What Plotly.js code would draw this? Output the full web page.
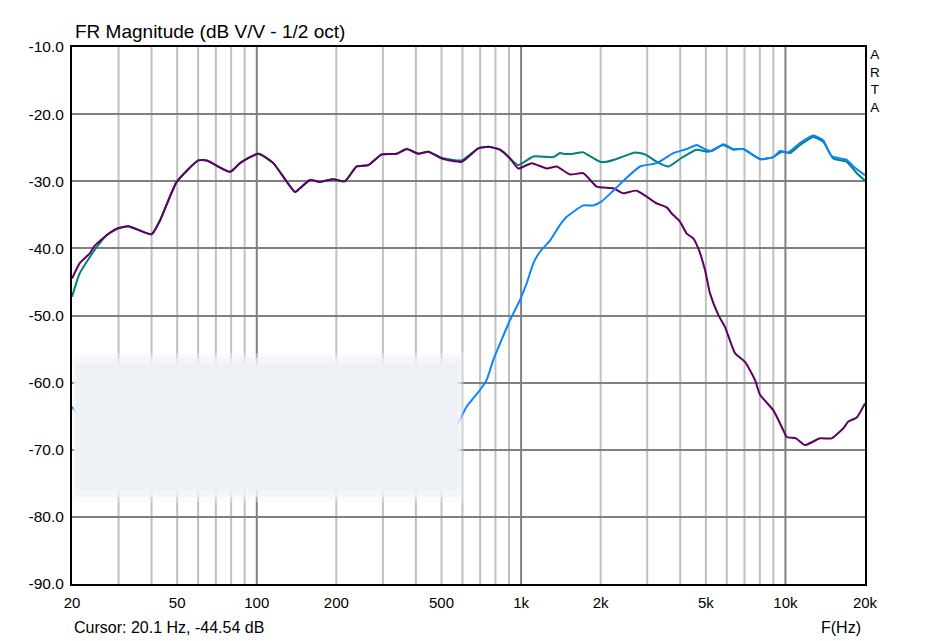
<!DOCTYPE html>
<html>
<head>
<meta charset="utf-8">
<script src="https://cdn.plot.ly/plotly-3.0.1.min.js"></script>
<style>html,body{margin:0;padding:0;background:#fff;}#chart{width:937px;height:641px;}</style>
</head>
<body>
<div id="chart"></div>
<script>
// ---- data (frequency in Hz, magnitude in dB) ----
const tealFreq = [20, 21.4, 24.4, 27.1, 29.9, 32.7, 40.0, 43.1, 49.8, 60.1, 64.7, 79.2, 86.4, 101.4, 115.5, 139.6, 146, 159, 173.5, 194.7, 215.6, 238.8, 264.2, 297, 338.3, 369.3, 408.3, 445.7, 500.7, 596.4, 688.8, 751.6, 832.3, 908, 975.8, 1113, 1324, 1404, 1445, 1576, 1671, 1720, 1989, 2108, 2368, 2697, 2944, 3259, 3607, 4052, 4616, 5107, 5822, 6354, 6935, 8012, 8995, 9683, 10410, 11350, 12750, 13900, 15170, 17060, 18610, 20000];
const tealDb = [-47.2, -43.7, -40.2, -38.0, -37.0, -36.7, -37.9, -35.8, -30.1, -26.9, -26.9, -28.6, -27.3, -25.9, -27.3, -31.6, -31.0, -29.8, -30.1, -29.7, -30.0, -27.8, -27.6, -26.0, -25.9, -25.2, -25.9, -25.6, -26.5, -26.9, -25.1, -24.85, -25.3, -26.6, -27.6, -26.3, -26.4, -25.8, -25.9, -25.9, -25.7, -25.7, -27.1, -27.1, -26.5, -25.7, -26.0, -27.1, -27.8, -26.5, -25.3, -25.6, -24.6, -25.3, -25.2, -26.7, -26.4, -25.6, -25.8, -24.6, -23.4, -24.1, -26.6, -27.1, -28.8, -29.9];

const purpleFreq = [20, 21.4, 23.4, 24.4, 27.1, 29.9, 32.7, 40.0, 43.1, 49.8, 60.1, 64.7, 79.2, 86.4, 101.4, 115.5, 139.6, 146, 159, 173.5, 194.7, 215.6, 238.8, 264.2, 297, 338.3, 369.3, 408.3, 445.7, 500.7, 596.4, 688.8, 751.6, 832.3, 908, 975.8, 1097, 1250, 1364, 1532, 1720, 1932, 2233, 2436, 2737, 3259, 3556, 3714, 3990, 4233, 4481, 4682, 4961, 5184, 5573, 5907, 6444, 7033, 7673, 8012, 8995, 9819, 10115, 10966, 11860, 13515, 14965, 16560, 17300, 18610, 20000];
const purpleDb = [-44.5, -42.2, -40.7, -39.6, -38.0, -37.0, -36.7, -37.9, -35.8, -30.1, -26.9, -26.9, -28.6, -27.3, -25.9, -27.3, -31.6, -31.0, -29.8, -30.1, -29.7, -30.0, -27.8, -27.6, -26.0, -25.9, -25.2, -25.9, -25.6, -26.6, -27.1, -25.1, -24.85, -25.3, -26.6, -28.1, -27.3, -28.1, -27.8, -29.0, -28.8, -30.8, -31.05, -31.8, -31.4, -33.3, -33.9, -34.8, -36.0, -37.8, -38.5, -40.0, -43.2, -46.7, -49.9, -51.7, -55.6, -56.9, -59.6, -61.8, -64.1, -67.1, -68.1, -68.3, -69.3, -68.3, -68.3, -66.8, -65.8, -65.2, -63.1];

const blueFreq = [20, 21.4, 24, 28, 35, 45, 60, 80, 100, 130, 170, 220, 280, 350, 420, 480, 540, 562, 622, 699, 741, 785, 844, 908, 990, 1050, 1113, 1179, 1288, 1404, 1488, 1720, 1877, 2017, 2233, 2473, 2818, 3260, 3768, 4233, 4616, 4888, 5262, 5822, 6354, 6935, 8012, 8995, 9539, 10257, 11350, 12750, 13900, 14960, 17060, 18070, 20000];
const blueDb = [-63.6, -64.9, -63.0, -60.5, -61.0, -63.0, -61.5, -62.5, -64.0, -63.0, -64.5, -66.0, -67.5, -66.0, -65.0, -66.0, -67.0, -66.8, -63.6, -61.1, -59.6, -56.6, -53.6, -50.7, -47.7, -45.2, -42.2, -40.5, -38.8, -36.5, -35.3, -33.6, -33.6, -33.0, -31.4, -29.7, -27.8, -27.3, -25.8, -25.2, -24.6, -25.1, -25.5, -24.5, -25.2, -25.2, -26.7, -26.4, -25.5, -25.7, -24.3, -23.2, -23.9, -26.3, -26.8, -27.8, -29.1];

const xTickVals = [20, 50, 100, 200, 500, 1000, 2000, 5000, 10000, 20000];
const xTickText = ['20', '50', '100', '200', '500', '1k', '2k', '5k', '10k', '20k'];
const yTickVals = [-90, -80, -70, -60, -50, -40, -30, -20, -10];
const yTickText = ['-90.0', '-80.0', '-70.0', '-60.0', '-50.0', '-40.0', '-30.0', '-20.0', '-10.0'];
const minorGrid = [30, 40, 50, 60, 70, 80, 90, 200, 300, 400, 500, 600, 700, 800, 900, 2000, 3000, 4000, 5000, 6000, 7000, 8000, 9000];
const decadeGrid = [100, 1000, 10000];

const titleText = 'FR Magnitude (dB V/V - 1/2 oct)';
const cursorText = 'Cursor: 20.1 Hz, -44.54 dB';
const unitText = 'F(Hz)';
const brandText = 'A<br>R<br>T<br>A';

// ---- chart ----
const font = 'Liberation Sans, Arial, sans-serif';
const lineStyle = c => ({color: c, width: 2, shape: 'spline', smoothing: 0.5});
const traces = [
  {x: tealFreq, y: tealDb, type: 'scatter', mode: 'lines', line: lineStyle('#008080'), hoverinfo: 'skip'},
  {x: purpleFreq, y: purpleDb, type: 'scatter', mode: 'lines', line: lineStyle('#600060'), hoverinfo: 'skip'},
  {x: blueFreq, y: blueDb, type: 'scatter', mode: 'lines', line: lineStyle('#0a84ff'), hoverinfo: 'skip'}
];

const shapes = [];
minorGrid.forEach(f => shapes.push({type: 'line', xref: 'x', yref: 'paper', x0: f, x1: f, y0: 0, y1: 1, layer: 'below', line: {color: '#c0c0c0', width: 2}}));
decadeGrid.forEach(f => shapes.push({type: 'line', xref: 'x', yref: 'paper', x0: f, x1: f, y0: 0, y1: 1, layer: 'below', line: {color: '#808080', width: 2}}));
// blurred masking box
shapes.push({type: 'rect', xref: 'x', yref: 'y', x0: 20.2, x1: 605, y0: -55.6, y1: -77.8, layer: 'above', fillcolor: '#f2f4f8', opacity: 0.4, line: {width: 0}});
shapes.push({type: 'rect', xref: 'x', yref: 'y', x0: 20.3, x1: 592, y0: -56.3, y1: -77.0, layer: 'above', fillcolor: '#eff2f7', opacity: 0.7, line: {width: 0}});
shapes.push({type: 'rect', xref: 'x', yref: 'y', x0: 20.7, x1: 575, y0: -57.3, y1: -76.0, layer: 'above', fillcolor: '#edf0f5', opacity: 1, line: {width: 0}});

const layout = {
  width: 937, height: 641,
  margin: {l: 72, r: 72, t: 47, b: 57, pad: 0},
  paper_bgcolor: '#ffffff', plot_bgcolor: '#ffffff',
  showlegend: false,
  font: {family: font, color: '#000000', size: 15},
  title: {text: titleText, x: 0, xref: 'paper', xanchor: 'left', y: 1 - 38 / 641, yref: 'container', yanchor: 'bottom', pad: {l: 3}, font: {family: font, size: 19, color: '#000'}},
  xaxis: {type: 'log', range: [Math.log10(20), Math.log10(20000)], tickmode: 'array', tickvals: xTickVals, ticktext: xTickText,
    showgrid: false, zeroline: false, showline: true, mirror: true, linecolor: '#000', linewidth: 2, ticks: '', ticklabelstandoff: 4, tickfont: {size: 15, family: font}},
  yaxis: {range: [-90, -10], tickmode: 'array', tickvals: yTickVals, ticktext: yTickText,
    showgrid: true, gridcolor: '#808080', gridwidth: 2, zeroline: false, showline: true, mirror: true, linecolor: '#000', linewidth: 2, ticks: '', ticklabelstandoff: 3, tickfont: {size: 15.5, family: font}},
  shapes: shapes,
  annotations: [
    {text: cursorText, xref: 'paper', yref: 'paper', x: 0, y: 0, xanchor: 'left', yanchor: 'top', yshift: -33, showarrow: false, font: {size: 16, family: font}},
    {text: unitText, xref: 'paper', yref: 'paper', x: 1, y: 0, xanchor: 'right', yanchor: 'top', xshift: -2, yshift: -33, showarrow: false, font: {size: 16, family: font}},
    {text: brandText, xref: 'paper', yref: 'paper', x: 1, y: 1, xanchor: 'left', yanchor: 'top', xshift: 3, yshift: 2, showarrow: false, align: 'center', font: {size: 13.5, family: font}}
  ]
};

Plotly.newPlot('chart', traces, layout, {displayModeBar: false, staticPlot: true});
</script>
</body>
</html>
